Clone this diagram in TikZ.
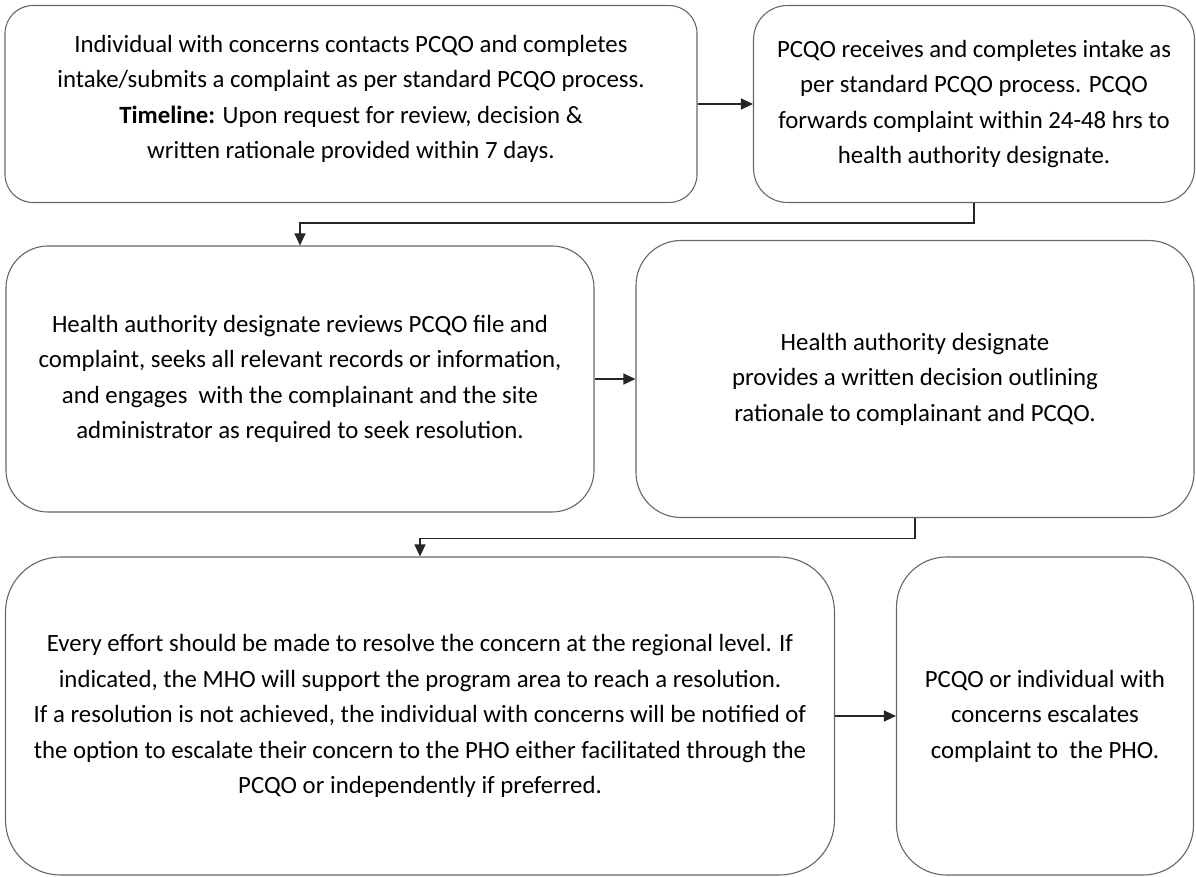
\documentclass[tikz,border=0pt]{standalone}
\usepackage{fontspec}
\setmainfont{Carlito}
\usetikzlibrary{arrows.meta}

\begin{document}
\begin{tikzpicture}[
    x=1pt, y=-1pt,
    box/.style={
        draw=black!60,
        line width=1.1pt,
        inner sep=0pt,
        align=center,
        font=\fontsize{24.8}{35.5}\selectfont
    },
    flow/.style={
        -{Triangle[length=12pt,width=11pt]},
        line width=1.1pt,
        draw=black!85
    }
]

    \useasboundingbox (0,0) rectangle (1196,877);

    \node[box, rounded corners=28pt, minimum width=692pt, minimum height=197pt] (intake) at (351,104)
        {Individual with concerns contacts PCQO and completes\\
         intake/submits a complaint as per standard PCQO process.\\
         \textbf{Timeline:} Upon request for review, decision \&\\
         written rationale provided within 7 days.\vspace{10pt}};
    \node[box, rounded corners=34pt, minimum width=441pt, minimum height=197pt] (receive) at (974,104)
        {PCQO receives and completes intake as\\
         per standard PCQO process. PCQO\\
         forwards complaint within 24-48 hrs to\\
         health authority designate.};
    \node[box, rounded corners=42pt, minimum width=588pt, minimum height=266pt] (review) at (300,379)
        {Health authority designate reviews PCQO file and\\
         complaint, seeks all relevant records or information,\\
         and engages\ \ with the complainant and the site\\
         administrator as required to seek resolution.};
    \node[box, rounded corners=45pt, minimum width=558pt, minimum height=277pt] (decision) at (915,379)
        {Health authority designate\\
         provides a written decision outlining\\
         rationale to complainant and PCQO.};
    \node[box, rounded corners=55pt, minimum width=829pt, minimum height=318pt] (resolve) at (420,716)
        {Every effort should be made to resolve the concern at the regional level. If\\
         indicated, the MHO will support the program area to reach a resolution.\\
         If a resolution is not achieved, the individual with concerns will be notified of\\
         the option to escalate their concern to the PHO either facilitated through the\\
         PCQO or independently if preferred.};
    \node[box, rounded corners=50pt, minimum width=297pt, minimum height=318pt] (escalate) at (1045,716)
        {PCQO or individual with\\
         concerns escalates\\
         complaint to\ \ the PHO.};

    \draw[flow] (intake.east) -- (receive.west);
    \draw[flow] (receive.south) -- ++(0,20) -| (review.north);
    \draw[flow] (review.east) -- (decision.west);
    \draw[flow] (decision.south) -- ++(0,20) -| (resolve.north);
    \draw[flow] (resolve.east) -- (escalate.west);

\end{tikzpicture}
\end{document}
